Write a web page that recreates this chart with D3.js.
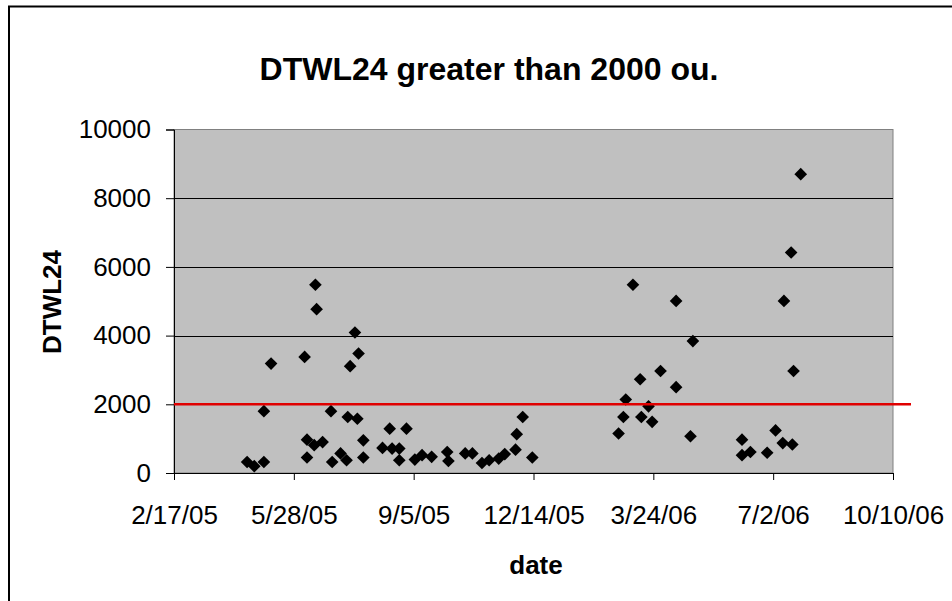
<!DOCTYPE html>
<html>
<head>
<meta charset="utf-8">
<script src="https://cdn.jsdelivr.net/npm/d3@7"></script>
<style>
  html, body { margin: 0; padding: 0; background: #fff; }
  svg { display: block; font-family: "Liberation Sans", Arial, sans-serif; }
</style>
</head>
<body>
<svg id="chart" width="952" height="601"></svg>
<script>
'use strict';

// sample dates and DTWL24 values
var dates = [
  "2005-04-19", "2005-04-25", "2005-05-03", "2005-05-03", "2005-05-09",
  "2005-06-06", "2005-06-08", "2005-06-08", "2005-06-14", "2005-06-15",
  "2005-06-16", "2005-06-21", "2005-06-28", "2005-06-29", "2005-07-06",
  "2005-07-11", "2005-07-12", "2005-07-14", "2005-07-18", "2005-07-20",
  "2005-07-21", "2005-07-25", "2005-07-25", "2005-08-10", "2005-08-16",
  "2005-08-18", "2005-08-24", "2005-08-24", "2005-08-30", "2005-09-06",
  "2005-09-12", "2005-09-20", "2005-10-03", "2005-10-04", "2005-10-18",
  "2005-10-24", "2005-11-01", "2005-11-07", "2005-11-15", "2005-11-20",
  "2005-11-29", "2005-11-30", "2005-12-05", "2005-12-13",
  "2006-02-23", "2006-02-27", "2006-03-01", "2006-03-07", "2006-03-13",
  "2006-03-14", "2006-03-20", "2006-03-23", "2006-03-30", "2006-04-12",
  "2006-04-12", "2006-04-24", "2006-04-26", "2006-06-06", "2006-06-06",
  "2006-06-13", "2006-06-27", "2006-07-04", "2006-07-10", "2006-07-11",
  "2006-07-17", "2006-07-18", "2006-07-19", "2006-07-25"
];
var values = [
  320, 200, 320, 1800, 3185,
  3380, 970, 450, 810, 5480,
  4770, 900, 1800, 320, 570,
  370, 1630, 3110, 4090, 1580,
  3480, 950, 450, 730, 1290,
  710, 710, 370, 1290, 390,
  520, 470, 610, 350, 570,
  570, 290, 370, 420, 550,
  680, 1130, 1630, 450,
  1150, 1630, 2140, 5480, 2730,
  1630, 1940, 1490, 2970, 5010,
  2500, 1070, 3840, 970, 520,
  610, 590, 1240, 870, 5010,
  6420, 830, 2970, 8700
];

var xTicks = ["2005-02-17", "2005-05-28", "2005-09-05", "2005-12-14", "2006-03-24", "2006-07-02", "2006-10-10"];
var yTicks = [0, 2000, 4000, 6000, 8000, 10000];
var threshold = 2000;

var parseDate = d3.utcParse("%Y-%m-%d");
var formatDate = function(d) {
  return (d.getUTCMonth() + 1) + "/" + d.getUTCDate() + "/" + d3.utcFormat("%y")(d);
};

var svg = d3.select("#chart");
var plotLeft = 174, plotRight = 893, plotTop = 129.5, plotBottom = 473;

var x = d3.scaleUtc()
  .domain([parseDate(xTicks[0]), parseDate(xTicks[xTicks.length - 1])])
  .range([plotLeft, plotRight]);

var y = d3.scaleLinear()
  .domain([0, 10000])
  .range([plotBottom, plotTop]);

var points = dates.map(function(d, i) {
  return { date: parseDate(d), value: values[i] };
});

// outer chart border (right and bottom edges fall outside the picture)
svg.append("rect")
  .attr("x", 9)
  .attr("y", 6.5)
  .attr("width", 1000)
  .attr("height", 700)
  .attr("fill", "none")
  .attr("stroke", "#000")
  .attr("stroke-width", 2);

// plot area
svg.append("rect")
  .attr("x", plotLeft)
  .attr("y", plotTop)
  .attr("width", plotRight - plotLeft)
  .attr("height", plotBottom - plotTop)
  .attr("fill", "#c0c0c0")
  .attr("stroke", "#808080")
  .attr("stroke-width", 1);

// gridlines
svg.append("g")
  .attr("class", "grid")
  .selectAll("line")
  .data(yTicks.slice(1, -1))
  .enter().append("line")
  .attr("x1", plotLeft)
  .attr("x2", plotRight)
  .attr("y1", function(d) { return Math.round(y(d)) + 0.5; })
  .attr("y2", function(d) { return Math.round(y(d)) + 0.5; })
  .attr("stroke", "#000")
  .attr("stroke-width", 1);

// y axis
var yAxis = svg.append("g")
  .attr("transform", "translate(" + plotLeft + ",0)")
  .call(d3.axisLeft(y).tickValues(yTicks).tickSize(8).tickPadding(15).tickFormat(d3.format("d")));
yAxis.select(".domain").attr("stroke", "#000");
yAxis.selectAll("text")
  .attr("font-size", "26px")
  .attr("font-family", "Liberation Sans, Arial, sans-serif")
  .attr("fill", "#000");

// x axis
var xAxis = svg.append("g")
  .attr("transform", "translate(0," + plotBottom + ")")
  .call(d3.axisBottom(x).tickValues(xTicks.map(parseDate)).tickSize(7).tickPadding(0).tickFormat(formatDate));
xAxis.select(".domain").attr("stroke", "#000");
xAxis.selectAll("text")
  .attr("y", 51)
  .attr("dy", 0)
  .attr("font-size", "26px")
  .attr("font-family", "Liberation Sans, Arial, sans-serif")
  .attr("fill", "#000");

// data points
svg.append("g")
  .attr("class", "points")
  .selectAll("path")
  .data(points)
  .enter().append("path")
  .attr("d", d3.symbol(d3.symbolSquare).size(80))
  .attr("transform", function(d) {
    return "translate(" + x(d.date) + "," + y(d.value) + ") rotate(45)";
  })
  .attr("fill", "#000");

// 2000 threshold line
svg.append("line")
  .attr("x1", plotLeft)
  .attr("x2", 911)
  .attr("y1", y(threshold))
  .attr("y2", y(threshold))
  .attr("stroke", "#e00000")
  .attr("stroke-width", 2.5);

// titles
svg.append("text")
  .attr("x", 489)
  .attr("y", 80)
  .attr("text-anchor", "middle")
  .attr("font-size", "32px")
  .attr("font-weight", "bold")
  .text("DTWL24 greater than 2000 ou.");

svg.append("text")
  .attr("transform", "translate(61,302) rotate(-90)")
  .attr("text-anchor", "middle")
  .attr("font-size", "26px")
  .attr("font-weight", "bold")
  .text("DTWL24");

svg.append("text")
  .attr("x", 536)
  .attr("y", 574)
  .attr("text-anchor", "middle")
  .attr("font-size", "26px")
  .attr("font-weight", "bold")
  .text("date");
</script>
</body>
</html>
